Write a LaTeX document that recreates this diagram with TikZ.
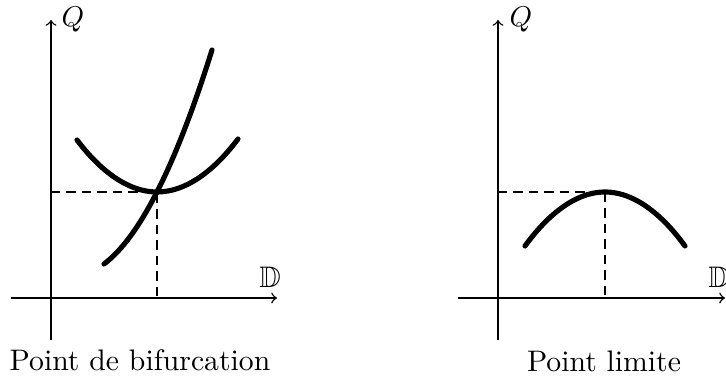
\documentclass[tikz,border=0pt]{standalone}
\usepackage{amssymb}
\begin{document}
\begin{tikzpicture}[x=0.35pt,y=-0.35pt,
  axis/.style={line width=0.5pt,->},
  curve/.style={line width=1.8pt,line cap=round},
  guide/.style={line width=0.4pt,dash pattern=on 3.3pt off 2.1pt},
  lbl/.style={font=\fontsize{10.4}{12}\selectfont}]
\useasboundingbox (0,0) rectangle (726,381);
% left plot
\coordinate (lo1) at (51,340); \coordinate (lq) at (51,20);
\coordinate (lx0) at (11,298); \coordinate (lx1) at (277,298);
\draw[axis] (lo1) -- (lq);
\draw[axis] (lx0) -- (lx1);
\node[lbl] (lQ) at (73,20) {$Q$};
\node[lbl] (lD) at (270,277) {$\mathbb{D}$};
\coordinate (lb) at (157,192);
\coordinate (lby) at (51,192);
\coordinate (lbx) at (157,298);
\draw[guide] (lby) -- (lb) -- (lbx);
\draw[curve] (77,140) parabola bend (lb) (238,139);
\draw[curve] (104,264) .. controls (140,237) and (176,165) .. (212,50);
\node[lbl] (lt) at (140,360) {Point de bifurcation};
% right plot
\coordinate (ro1) at (498,340); \coordinate (rq) at (498,20);
\coordinate (rx0) at (458,298); \coordinate (rx1) at (725,298);
\draw[axis] (ro1) -- (rq);
\draw[axis] (rx0) -- (rx1);
\node[lbl] (rQ) at (521,20) {$Q$};
\node[lbl] (rD) at (719,277) {$\mathbb{D}$};
\coordinate (rb) at (605,192);
\coordinate (rby) at (498,192);
\coordinate (rbx) at (605,298);
\draw[guide] (rby) -- (rb) -- (rbx);
\draw[curve] (525,246) parabola bend (rb) (685,246);
\node[lbl] (rt) at (604,361) {Point limite};
\end{tikzpicture}
\end{document}
